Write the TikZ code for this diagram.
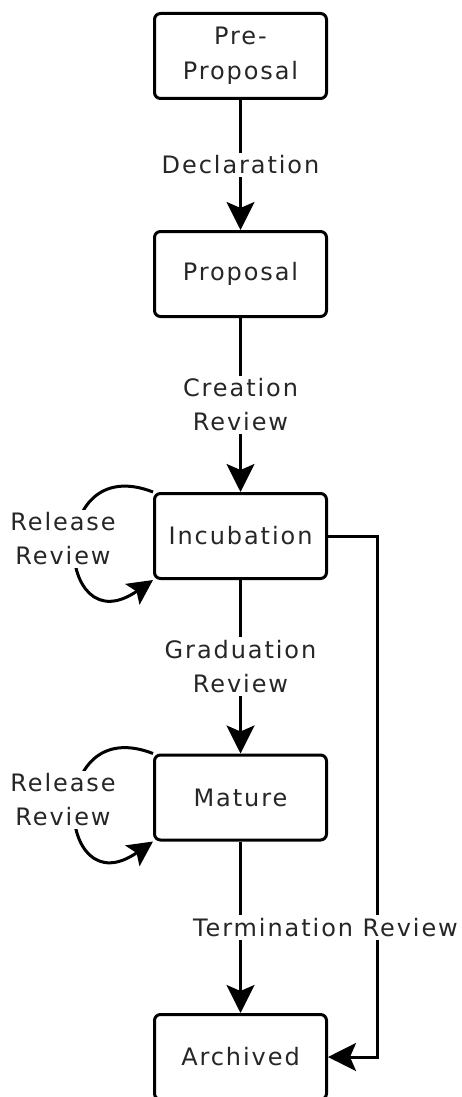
\documentclass[tikz,border=0pt]{standalone}
\usepackage{fontspec}
\setmainfont[LetterSpace=8]{DejaVu Sans}
\usetikzlibrary{arrows.meta,calc}
\begin{document}
\begin{tikzpicture}[x=1pt,y=-1pt,
  state/.style={draw, line width=3pt, rounded corners=6pt, minimum width=172pt,
    minimum height=85pt, align=center, inner sep=0pt, text=black!85, font=\fontsize{24}{35}\selectfont},
  lab/.style={fill=white, align=center, inner sep=3pt, text=black!85, font=\fontsize{24}{34}\selectfont},
  edgearrow/.style={line width=3pt, -{Stealth[length=28pt,width=28pt,inset=6pt]}},
  looparrow/.style={line width=3pt, -{Stealth[length=25pt,width=25pt,inset=5pt]}}]
\useasboundingbox (0,0) rectangle (462,1097);
\node[state] (pre)  at (240.5,56)   {Pre-\\Proposal};
\node[state] (prop) at (240.5,274)  {Proposal};
\node[state] (inc)  at (240.5,536)  {Incubation};
\node[state] (mat)  at (240.5,797.5){Mature};
\node[state] (arc)  at (240.5,1057) {Archived};
\coordinate (r) at (377,536);
\draw[edgearrow] (pre) -- node[lab] (l1) {Declaration} (prop);
\draw[edgearrow] (prop) -- node[lab] (l2) {Creation\\Review} (inc);
\draw[edgearrow] (inc) -- node[lab] (l3) {Graduation\\Review} (mat);
\draw[edgearrow] (inc.east) -- (r) |- (arc.east);
\draw[edgearrow] (mat) -- node[lab, xshift=85pt] (l4) {Termination Review} (arc);
\draw[looparrow] (inc.north west) .. controls ($(inc.north west)+(-108,-42)$) and ($(inc.south west)+(-98,68)$) .. (inc.south west);
\node[lab] (rr1) at (63,539) {Release\\Review};
\draw[looparrow] (mat.north west) .. controls ($(mat.north west)+(-108,-42)$) and ($(mat.south west)+(-98,68)$) .. (mat.south west);
\node[lab] (rr2) at (63,800) {Release\\Review};
\end{tikzpicture}
\end{document}
